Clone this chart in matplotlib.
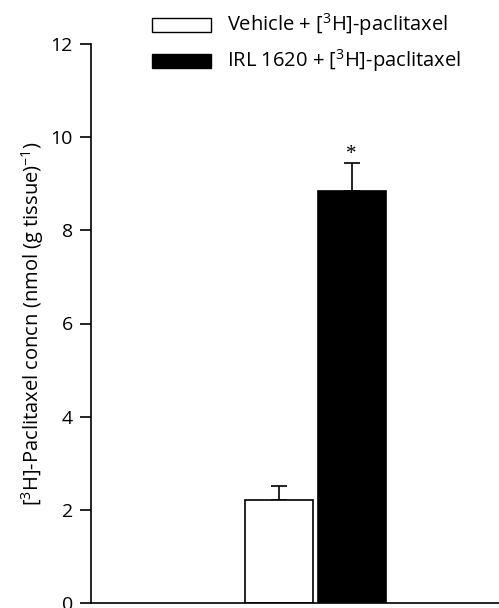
import matplotlib.pyplot as plt
from matplotlib.patches import Rectangle

groups = ['Vehicle + [$^3$H]-paclitaxel', 'IRL 1620 + [$^3$H]-paclitaxel']
means = [2.21, 8.85]
sems = [0.31, 0.60]
colors = ['white', 'black']
sig = ['', '*']

plt.rcParams['font.family'] = ['Open Sans', 'DejaVu Sans']
plt.rcParams['mathtext.fontset'] = 'custom'
plt.rcParams['mathtext.rm'] = 'Open Sans'
plt.rcParams['mathtext.it'] = 'Open Sans'

W, H = 499, 608
fig = plt.figure(figsize=(W / 100, H / 100), dpi=100)
ax = fig.add_axes([91 / W, 5 / H, 408 / W, 559 / H])

pos = [0, 1]
width = 0.93
ax.bar(pos, means, width=width, color=colors, edgecolor='black', linewidth=1.2, zorder=2)
ax.errorbar(pos, means, yerr=[[0, 0], sems], fmt='none', ecolor='black',
            elinewidth=1.2, capsize=6, capthick=1.2, zorder=1)
for p, m, s, t in zip(pos, means, sems, sig):
    if t:
        ax.text(p, m + s + 0.18, t, ha='center', va='center', fontsize=15,
                family='Liberation Serif')

ax.set_xlim(-2.57, 3.02)
ax.set_ylim(0, 12)
ax.set_yticks(range(0, 13, 2))
ax.set_xticks([])
ax.spines['top'].set_visible(False)
ax.spines['right'].set_visible(False)
ax.spines['left'].set_linewidth(1.2)
ax.spines['bottom'].set_linewidth(1.2)
ax.tick_params(axis='y', length=8, width=1.2, labelsize=14, pad=5)
ax.set_ylabel('[$^3$H]-Paclitaxel concn (nmol (g tissue)$^{-1}$)', fontsize=14.5, labelpad=3)

# legend drawn by hand so the row spacing matches
for i, (c, g) in enumerate(zip(colors, groups)):
    yc = 25 + 36 * i
    fig.patches.append(Rectangle((152 / W, 1 - (yc + 7) / H), 59 / W, 14 / H,
                                 facecolor=c, edgecolor='black', linewidth=1,
                                 transform=fig.transFigure, figure=fig))
    fig.text(227 / W, 1 - (yc + 6) / H, g, fontsize=14.5, va='baseline', ha='left')

fig.savefig('out.png', dpi=100)
